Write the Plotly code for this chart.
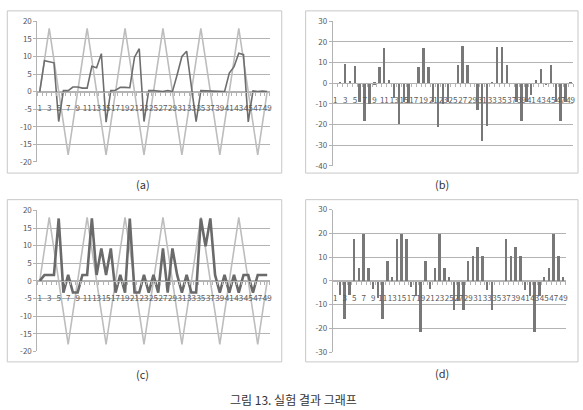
import plotly.graph_objects as go

W, H = 583, 410

categories = list(range(1, 50))
x_tick_values = list(range(1, 50, 2))
x_tick_labels = ["1", "3", "5", "7", "9", "11", "13", "15", "17", "19", "21", "23", "25",
                 "27", "29", "31", "33", "35", "37", "39", "41", "43", "45", "47", "49"]

# light gray reference (triangle) signal, panels (a) and (c)
reference_wave = [0, 9, 18, 9, 0, -9, -18, -9,
                  0, 9, 18, 9, 0, -9, -18, -9,
                  0, 9, 18, 9, 0, -9, -18, -9,
                  0, 9, 18, 9, 0, -9, -18, -9,
                  0, 9, 18, 9, 0, -9, -18, -9,
                  0, 9, 18, 9, 0, -9, -18, -9,
                  0]

# panel (a) dark line
series_a = [0, 8.8, 8.5, 8.2, -8.5, 0.3, 0.3, 1.3, 1.3, 1.0,
            1.0, 7.2, 6.8, 10.8, -8.7, 0.3, 0.4, 1.2, 1.2, 1.1,
            9.8, 12.2, -8.5, 0.3, 0.3, 0.2, 0.0, 0.3, 0.0, 4.8,
            10.0, 11.5, 1.5, -8.5, 0.3, 0.2, 0.1, 0.0, 0.0, 0.0,
            5.3, 7.1, 10.9, 10.5, -8.6, 0.2, 0.0, 0.2, 0.0]

# panel (b) bars
series_b = [0, 0.3, 9.1, 0.5, 8.4, -9.3, -18.2, -10.3, -0.8, 7.7,
            17.0, 1.5, -7.2, -20.0, -9.0, -9.6, 0, 7.5, 17.0, 7.8,
            -9.3, -21.2, -10.0, -9.3, 0, 8.8, 18.0, 8.7, 0, -13.2,
            -28.2, -20.6, -0.6, 17.3, 17.6, 8.7, 0, -9.0, -18.3, -9.0,
            -5.8, 1.6, 6.8, -1.0, 8.6, -9.0, -18.3, -9.0, 0.3]

# panel (c) dark line
series_c = [0, 1.7, 1.7, 1.7, 17.7, -3.3, 1.7, -3.3, -3.3, 1.7,
            1.7, 17.7, 1.7, 9.2, 1.7, 9.2, -3.3, 1.7, -3.3, 17.7,
            -3.3, -3.3, 1.7, -3.3, 1.7, -3.3, 9.2, -3.3, 9.2, 1.7,
            -3.3, 1.7, -3.3, -3.3, 17.7, 9.8, 17.7, 1.7, -3.3, 1.7,
            -3.3, 1.7, -3.3, 1.7, 1.7, -3.3, 1.7, 1.7, 1.7]

# panel (d) bars
series_d = [0, -5.7, -16.0, -5.7, 17.8, 5.6, 19.8, 5.6, -3.4, -7.0,
            -16.0, 8.6, 1.8, 17.8, 19.8, 17.8, -2.3, -6.2, -21.2, 8.6,
            -3.4, 5.4, 19.8, 5.4, 1.8, -12.2, -8.5, -12.2, 8.6, 10.7,
            14.3, 10.7, -3.7, -12.2, 0, 0, 17.8, 10.7, 14.3, 10.7,
            -3.7, -6.4, -21.2, -6.4, 1.8, 5.4, 19.8, 10.7, 1.8]

y_ticks_20 = [-20, -15, -10, -5, 0, 5, 10, 15, 20]
y_labels_20 = ["-20", "-15", "-10", "-5", "0", "5", "10", "15", "20"]
y_ticks_b = [-40, -30, -20, -10, 0, 10, 20, 30]
y_labels_b = ["-40", "-30", "-20", "-10", "0", "10", "20", "30"]
y_ticks_d = [-30, -20, -10, 0, 10, 20, 30]
y_labels_d = ["-30", "-20", "-10", "0", "10", "20", "30"]

panel_labels = ["(a)", "(b)", "(c)", "(d)"]
caption = "그림 13. 실험 결과 그래프"

FONT = "Noto Sans CJK KR"
GRID = "#b3b3b3"
TXT = "#595959"
LIGHT = "#bdbdbd"
DARK = "#6e6e6e"

def px_x(p):
    return p / W

def px_y(p):
    return 1 - p / H

# plot areas in pixels: (left, right, top, bottom)
areas = {
    1: (37.5, 270.5, 15.7, 160.3),
    2: (334.0, 575.0, 15.7, 164.3),
    3: (37.5, 270.5, 210.0, 355.0),
    4: (334.0, 567.5, 209.3, 355.7),
}
yranges = {1: (-20, 20), 2: (-40, 30), 3: (-20, 20), 4: (-30, 30)}
yticks = {1: (y_ticks_20, y_labels_20), 2: (y_ticks_b, y_labels_b),
          3: (y_ticks_20, y_labels_20), 4: (y_ticks_d, y_labels_d)}

fig = go.Figure()

# (a)
fig.add_trace(go.Scatter(x=categories, y=reference_wave, mode="lines",
                         line=dict(color=LIGHT, width=1.6), xaxis="x", yaxis="y"))
fig.add_trace(go.Scatter(x=categories, y=series_a, mode="lines",
                         line=dict(color=DARK, width=1.6), xaxis="x", yaxis="y"))
# (b)
fig.add_trace(go.Bar(x=categories, y=series_b, width=0.4,
                     marker=dict(color="#787878", line=dict(width=0)),
                     xaxis="x2", yaxis="y2"))
# (c)
fig.add_trace(go.Scatter(x=categories, y=reference_wave, mode="lines",
                         line=dict(color=LIGHT, width=1.6), xaxis="x3", yaxis="y3"))
fig.add_trace(go.Scatter(x=categories, y=series_c, mode="lines",
                         line=dict(color="#6a6a6a", width=2.6), xaxis="x3", yaxis="y3"))
# (d)
fig.add_trace(go.Bar(x=categories, y=series_d, width=0.4,
                     marker=dict(color="#787878", line=dict(width=0)),
                     xaxis="x4", yaxis="y4"))

layout = dict(
    width=W, height=H, margin=dict(l=0, r=0, t=0, b=0),
    paper_bgcolor="white", plot_bgcolor="white", showlegend=False,
    font=dict(family=FONT, size=8, color=TXT),
    bargap=0,
)

shapes = []
annotations = []
for i in range(1, 5):
    l, r, t, b = areas[i]
    ymin, ymax = yranges[i]
    ydom = [px_y(b), px_y(t)]
    xdom = [px_x(l), px_x(r)]
    zero_pos = ydom[0] + (0 - ymin) / (ymax - ymin) * (ydom[1] - ydom[0])
    sfx = "" if i == 1 else str(i)
    tv, tt = yticks[i]
    layout["xaxis" + sfx] = dict(
        domain=xdom, range=[0.5, 49.5], anchor="free", position=zero_pos,
        tickmode="array", tickvals=x_tick_values, ticktext=x_tick_labels,
        tickangle=0, ticks="", showgrid=False, zeroline=False,
        showline=True, linecolor=GRID, linewidth=1,
        tickfont=dict(family=FONT, size=8, color=TXT),
        ticklabelstandoff=9,
        minor=dict(tick0=0.5, dtick=1, ticks="outside", ticklen=3,
                   tickcolor=GRID, showgrid=False),
        fixedrange=True,
    )
    layout["yaxis" + sfx] = dict(
        domain=ydom, range=[ymin, ymax], anchor="x" + sfx,
        tickmode="array", tickvals=tv, ticktext=tt,
        showgrid=True, gridcolor=GRID, gridwidth=1, zeroline=False,
        showline=True, linecolor=GRID, linewidth=1,
        ticks="outside", ticklen=3, tickcolor=GRID,
        tickfont=dict(family=FONT, size=8, color=TXT),
        fixedrange=True,
    )

# chart-area borders
boxes = [(7.3, 5, 282.7, 171.7), (306.7, 5, 580, 171.7),
         (7.3, 199, 282.7, 365.7), (306.7, 199, 580, 365.7)]
for (x0, y0, x1, y1) in boxes:
    shapes.append(dict(type="rect", xref="paper", yref="paper",
                       x0=px_x(x0), x1=px_x(x1), y0=px_y(y1), y1=px_y(y0),
                       line=dict(color="#c8c8c8", width=1)))

label_pos = [(143, 183), (443.5, 183), (143, 378), (443.5, 377.5)]
for txt, (x, y) in zip(panel_labels, label_pos):
    annotations.append(dict(text=txt, xref="paper", yref="paper", x=px_x(x), y=px_y(y),
                            showarrow=False, xanchor="center", yanchor="middle",
                            font=dict(family=FONT, size=11, color="#333333")))

annotations.append(dict(text=caption, xref="paper", yref="paper", x=px_x(295), y=px_y(404),
                        showarrow=False, xanchor="center", yanchor="middle",
                        font=dict(family=FONT, size=12, color="#333333")))

layout["shapes"] = shapes
layout["annotations"] = annotations
fig.update_layout(**layout)

fig.write_html("out.html")
